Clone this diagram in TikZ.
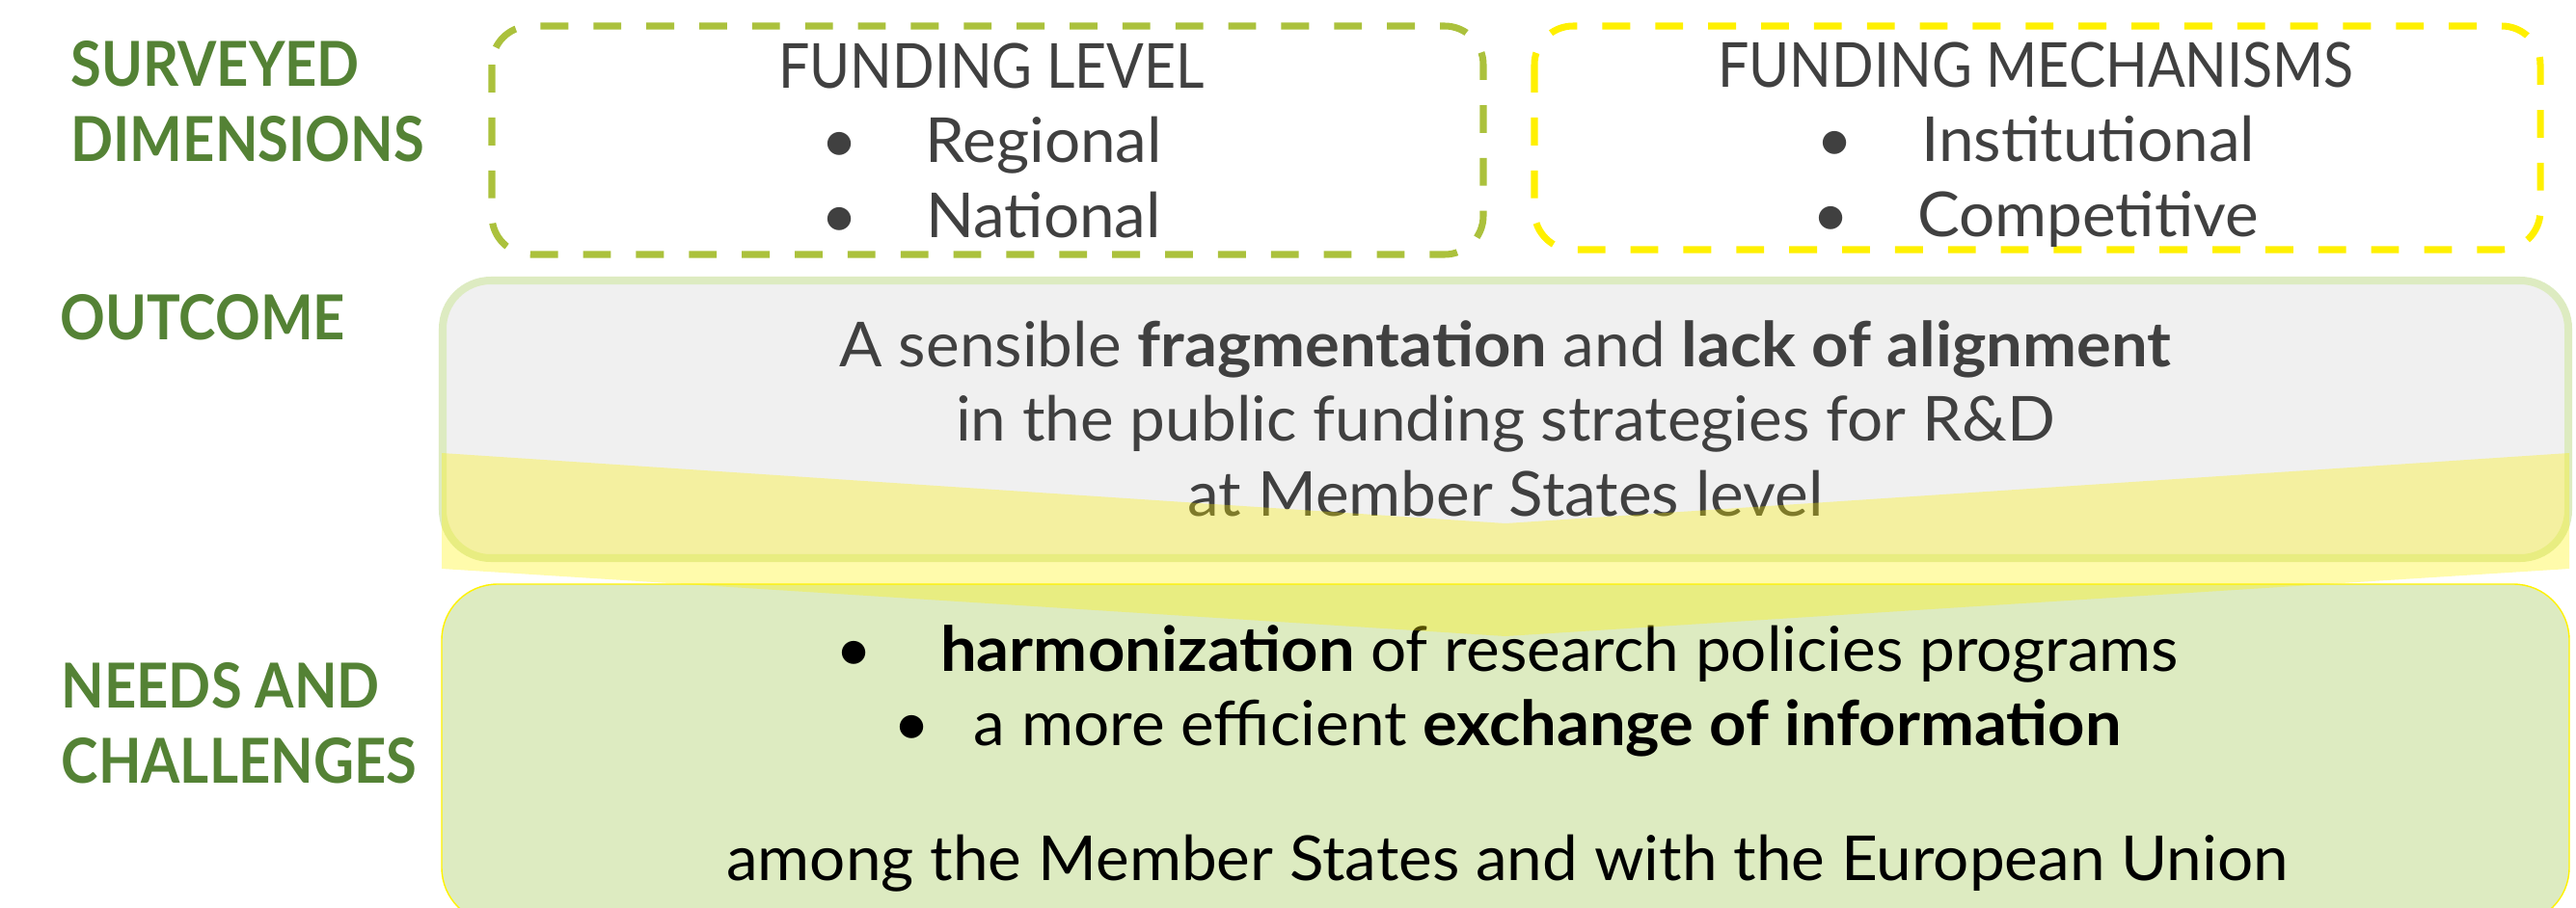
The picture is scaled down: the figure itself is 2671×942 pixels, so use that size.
\documentclass[tikz,border=0pt]{standalone}
\usepackage{fontspec}
\setmainfont{Lato}[FakeStretch=1.02, BoldFeatures={FakeStretch=1.04}]
\newfontfamily\labelfont{Lato}[BoldFeatures={FakeStretch=0.90}]
\newfontfamily\headfont{Lato}[FakeStretch=0.89]
\usepackage{tikz}
\usetikzlibrary{positioning}

\definecolor{labelgreen}{RGB}{84,130,53}
\definecolor{olivedash}{RGB}{171,193,60}
\definecolor{dashyellow}{RGB}{255,240,0}
\definecolor{palegreen}{RGB}{221,235,193}
\definecolor{palegray}{RGB}{240,240,240}
\definecolor{darktext}{RGB}{64,64,64}

\begin{document}
\begin{tikzpicture}[x=0.01cm, y=-0.01cm, every node/.style={inner sep=0pt}, font=\fontsize{18.3}{21.9}\selectfont]
\tikzstyle{dimension} = [text=labelgreen, font=\fontsize{18.3}{21.9}\selectfont\labelfont\bfseries, align=left, anchor=base west]
\tikzstyle{surveyed} = [rounded corners=11.4pt, line width=2pt, dash pattern=on 8.2pt off 7.4pt]
\tikzstyle{body} = [align=center, anchor=base]
\tikzstyle{chevron} = [fill=yellow, fill opacity=0.33]

\useasboundingbox (0,0) rectangle (2671,942);
\clip (0,0) rectangle (2671,942);

% surveyed dimensions
\draw[surveyed, draw=olivedash] (510,27) rectangle (1538,264);
\draw[surveyed, draw=dashyellow] (1591,27) rectangle (2634,259);

% outcome and needs
\draw[draw=palegreen, fill=palegray, line width=2.28pt, rounded corners=14.2pt] (459,291) rectangle (2663,579);
\draw[draw=yellow, fill=palegreen, line width=0.4pt, rounded corners=16.5pt] (458,606) rectangle (2664,958);

% base = last line
\node[dimension] (surveyed) at (73,167) {SURVEYED\\DIMENSIONS};
\node[dimension] (outcome) at (62,352) {OUTCOME};
\node[dimension] (needs) at (63,812) {NEEDS AND\\CHALLENGES};

\node[body, text=darktext] (level) at (1028,246) {{\headfont FUNDING LEVEL}\\\textbullet\hspace{20pt}Regional\\\textbullet\hspace{20pt}National};
\node[body, text=darktext] (mechanisms) at (2111,245) {{\headfont FUNDING MECHANISMS}\\\textbullet\hspace{20pt}Institutional\\\textbullet\hspace{20pt}Competitive};

\node[body, text=darktext] (fragmentation) at (1561,535) {A sensible \textbf{fragmentation} and \textbf{lack of alignment}\\in the public funding strategies for R\&D\\at Member States level};
\node[body] (harmonization) at (1563,913) {\textbullet\hspace{20pt}\textbf{harmonization} of research policies programs\\\textbullet\hspace{13pt}a more efficient \textbf{exchange of information}\\[17.9pt]among the Member States and with the European Union};

% arrow between outcome and needs
\fill[chevron] (458,470) -- (1561,543) -- (2664,470) -- (2664,590) -- (1561,660) -- (458,590) -- cycle;

\end{tikzpicture}
\end{document}
